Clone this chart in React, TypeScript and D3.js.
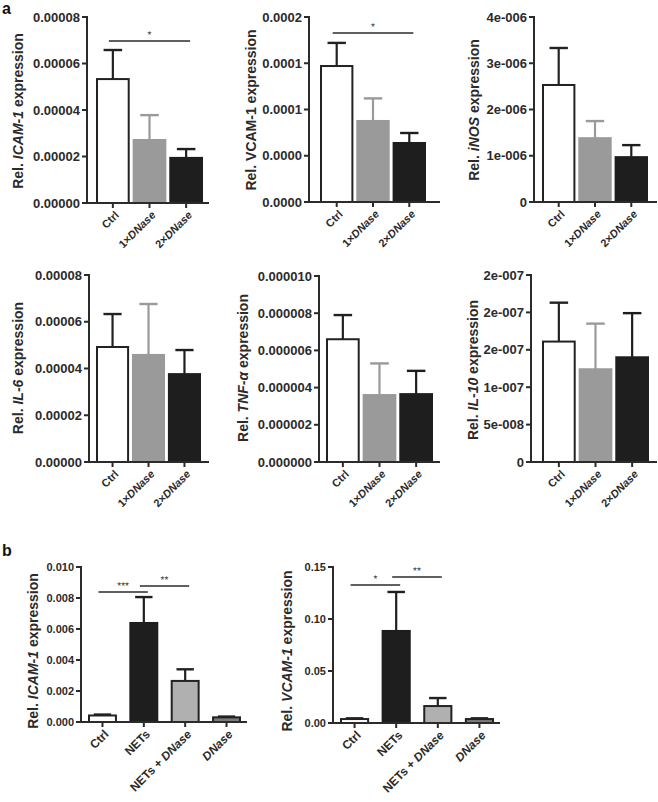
import React from "react";
import * as d3 from "d3";

// ---------- DATA ----------
const groupsA = ["Ctrl", "1×DNase", "2×DNase"];
const groupsB = ["Ctrl", "NETs", "NETs + DNase", "DNase"];

const icamMean = [0.0000533, 0.0000271, 0.0000194];
const icamSem = [0.0000125, 0.0000107, 0.0000038];
const vcamMean = [0.000147, 0.0000876, 0.0000638];
const vcamSem = [0.000025, 0.0000244, 0.0000108];
const inosMean = [2.53e-6, 1.38e-6, 0.97e-6];
const inosSem = [0.8e-6, 0.37e-6, 0.26e-6];
const il6Mean = [0.0000492, 0.0000458, 0.0000376];
const il6Sem = [0.0000141, 0.0000218, 0.0000103];
const tnfMean = [6.6e-6, 3.6e-6, 3.65e-6];
const tnfSem = [1.3e-6, 1.7e-6, 1.25e-6];
const il10Mean = [1.61e-7, 1.24e-7, 1.4e-7];
const il10Sem = [0.52e-7, 0.61e-7, 0.59e-7];
const bIcamMean = [0.00042, 0.00639, 0.00265, 0.0003];
const bIcamSem = [0.00006, 0.00167, 0.00075, 0.00005];
const bVcamMean = [0.0038, 0.0885, 0.0163, 0.0038];
const bVcamSem = [0.0007, 0.0375, 0.0077, 0.0007];

const ticks8e5 = [0, 0.00002, 0.00004, 0.00006, 0.00008];
const ticks8e5Labels = ["0.00000", "0.00002", "0.00004", "0.00006", "0.00008"];
const ticksVcam = [0, 0.00005, 0.0001, 0.00015, 0.0002];
const ticksVcamLabels = ["0.0000", "0.0000", "0.0001", "0.0001", "0.0002"];
const ticksInos = [0, 1e-6, 2e-6, 3e-6, 4e-6];
const ticksInosLabels = ["0", "1e-006", "2e-006", "3e-006", "4e-006"];
const ticksTnf = [0, 2e-6, 4e-6, 6e-6, 8e-6, 1e-5];
const ticksTnfLabels = ["0.000000", "0.000002", "0.000004", "0.000006", "0.000008", "0.000010"];
const ticksIl10 = [0, 5e-8, 1e-7, 1.5e-7, 2e-7, 2.5e-7];
const ticksIl10Labels = ["0", "5e-008", "1e-007", "2e-007", "2e-007", "2e-007"];
const ticksBIcam = [0, 0.002, 0.004, 0.006, 0.008, 0.01];
const ticksBIcamLabels = ["0.000", "0.002", "0.004", "0.006", "0.008", "0.010"];
const ticksBVcam = [0, 0.05, 0.1, 0.15];
const ticksBVcamLabels = ["0.00", "0.05", "0.10", "0.15"];

const sigIcam = [{ from: "Ctrl", to: "2×DNase", label: "*" }];
const sigVcam = [{ from: "Ctrl", to: "2×DNase", label: "*" }];
const sigBIcam = [
  { from: "Ctrl", to: "NETs", label: "***" },
  { from: "NETs", to: "NETs + DNase", label: "**" },
];
const sigBVcam = [
  { from: "Ctrl", to: "NETs", label: "*" },
  { from: "NETs", to: "NETs + DNase", label: "**" },
];

// ---------- STYLE ----------
const TXT = "#2b2b2b";
const AX = "#2b2b2b";
const FONT = "'Liberation Sans', Arial, Helvetica, sans-serif";
const styleA = [
  { fill: "#ffffff", stroke: "#222", err: "#222" },
  { fill: "#9a9a9a", stroke: "#9a9a9a", err: "#9a9a9a" },
  { fill: "#1e1e1e", stroke: "#1e1e1e", err: "#1e1e1e" },
];
const styleB = [
  { fill: "#ffffff", stroke: "#222", err: "#222" },
  { fill: "#1e1e1e", stroke: "#1e1e1e", err: "#1e1e1e" },
  { fill: "#b0b0b0", stroke: "#222", err: "#222" },
  { fill: "#7a7a7a", stroke: "#222", err: "#222" },
];

type SigDef = { from: string; to: string; label: string };
type PanelCfg = {
  cats: string[];
  mean: number[];
  sem: number[];
  max: number;
  ticks: number[];
  tickLabels: string[];
  gene: string;
  geneItalic: boolean;
  styles: { fill: string; stroke: string; err: string }[];
  axisX: number;
  yTop: number;
  yBottom: number;
  bandStart: number;
  bandEnd: number;
  padInner: number;
  axisEnd: number;
  titleX: number;
  titleY: number;
  titleSize: number;
  tickSize: number;
  xLabSize: number;
  capFrac: number;
  sig: SigDef[];
  sigY: number[];
};

const XLabel = ({ text }: { text: string }) => {
  const idx = text.indexOf("DNase");
  if (idx < 0) return <>{text}</>;
  return (
    <>
      {text.slice(0, idx)}
      <tspan fontStyle="italic">DNase</tspan>
    </>
  );
};

const Panel = ({ p }: { p: PanelCfg }) => {
  const y = d3.scaleLinear().domain([0, p.max]).range([p.yBottom, p.yTop]);
  const x = d3
    .scaleBand<string>()
    .domain(p.cats)
    .range([p.bandStart, p.bandEnd])
    .paddingInner(p.padInner)
    .paddingOuter(0);
  const bw = x.bandwidth();
  const cap = bw * p.capFrac;
  const cx = (c: string) => (x(c) as number) + bw / 2;
  return (
    <g fontFamily={FONT} fontWeight="bold" fill={TXT}>
      {p.cats.map((c, i) => {
        const st = p.styles[i];
        const top = y(p.mean[i]);
        const et = y(p.mean[i] + p.sem[i]);
        return (
          <g key={c}>
            <line x1={cx(c)} x2={cx(c)} y1={top} y2={et} stroke={st.err} strokeWidth={2.2} />
            <line x1={cx(c) - cap / 2} x2={cx(c) + cap / 2} y1={et} y2={et} stroke={st.err} strokeWidth={2.4} />
            <rect
              x={(x(c) as number) + 1}
              y={top}
              width={bw - 2}
              height={p.yBottom - top}
              fill={st.fill}
              stroke={st.stroke}
              strokeWidth={2}
            />
          </g>
        );
      })}
      <line x1={p.axisX} x2={p.axisX} y1={p.yTop - 1} y2={p.yBottom + 1} stroke={AX} strokeWidth={2} />
      {p.ticks.map((t, i) => (
        <g key={i}>
          <line x1={p.axisX - 5} x2={p.axisX} y1={y(t)} y2={y(t)} stroke={AX} strokeWidth={2} />
          <text x={p.axisX - 7} y={y(t)} dy="0.36em" textAnchor="end" fontSize={p.tickSize}>
            {p.tickLabels[i]}
          </text>
        </g>
      ))}
      <line x1={p.axisX - 1} x2={p.axisEnd} y1={p.yBottom} y2={p.yBottom} stroke={AX} strokeWidth={2} />
      {p.cats.map((c) => (
        <g key={c}>
          <line x1={cx(c)} x2={cx(c)} y1={p.yBottom} y2={p.yBottom + 5} stroke={AX} strokeWidth={2} />
          <text
            transform={`translate(${cx(c) + 4},${p.yBottom + 10}) rotate(-45)`}
            textAnchor="end"
            dy="0.35em"
            fontSize={p.xLabSize}
          >
            <XLabel text={c} />
          </text>
        </g>
      ))}
      <text
        transform={`translate(${p.titleX},${p.titleY}) rotate(-90)`}
        textAnchor="middle"
        dy="0.35em"
        fontSize={p.titleSize}
      >
        {"Rel. "}
        <tspan fontStyle={p.geneItalic ? "italic" : "normal"}>{p.gene}</tspan>
        {" expression"}
      </text>
      {p.sig.map((s, i) => {
        const x1 = cx(s.from) - 4;
        const x2 = cx(s.to) + 4;
        const yy = p.sigY[i];
        return (
          <g key={i}>
            <line x1={x1} x2={x2} y1={yy} y2={yy} stroke={AX} strokeWidth={1.6} />
            <text
              x={(x1 + x2) / 2}
              y={yy - 3}
              textAnchor="middle"
              fontSize={10}
              fontWeight="normal"
              fill="#333"
              style={{ textRendering: "geometricPrecision" }}
            >
              {s.label}
            </text>
          </g>
        );
      })}
    </g>
  );
};

const base = {
  titleSize: 14,
  tickSize: 13,
  xLabSize: 11,
  capFrac: 0.55,
  padInner: 0.08,
};

const panels: PanelCfg[] = [
  {
    ...base,
    cats: groupsA, mean: icamMean, sem: icamSem, max: 0.00008, ticks: ticks8e5, tickLabels: ticks8e5Labels,
    gene: "ICAM-1", geneItalic: true, styles: styleA,
    axisX: 87, yTop: 17, yBottom: 203, bandStart: 96, bandEnd: 203, axisEnd: 209,
    titleX: 18, titleY: 111, sig: sigIcam, sigY: [41],
  },
  {
    ...base,
    cats: groupsA, mean: vcamMean, sem: vcamSem, max: 0.0002, ticks: ticksVcam, tickLabels: ticksVcamLabels,
    gene: "VCAM-1", geneItalic: false, styles: styleA,
    axisX: 309, yTop: 17, yBottom: 202, bandStart: 320, bandEnd: 426, axisEnd: 440,
    titleX: 251, titleY: 110, sig: sigVcam, sigY: [33],
  },
  {
    ...base,
    cats: groupsA, mean: inosMean, sem: inosSem, max: 4e-6, ticks: ticksInos, tickLabels: ticksInosLabels,
    gene: "iNOS", geneItalic: true, styles: styleA,
    axisX: 534, yTop: 17, yBottom: 202, bandStart: 542, bandEnd: 648, axisEnd: 657,
    titleX: 474, titleY: 110, sig: [], sigY: [],
  },
  {
    ...base,
    cats: groupsA, mean: il6Mean, sem: il6Sem, max: 0.00008, ticks: ticks8e5, tickLabels: ticks8e5Labels,
    gene: "IL-6", geneItalic: true, styles: styleA,
    axisX: 89, yTop: 275, yBottom: 462, bandStart: 96, bandEnd: 201, axisEnd: 209,
    titleX: 18, titleY: 368, sig: [], sigY: [],
  },
  {
    ...base,
    cats: groupsA, mean: tnfMean, sem: tnfSem, max: 1e-5, ticks: ticksTnf, tickLabels: ticksTnfLabels,
    gene: "TNF-α", geneItalic: true, styles: styleA,
    axisX: 319, yTop: 276, yBottom: 462, bandStart: 326, bandEnd: 433, axisEnd: 440,
    titleX: 243, titleY: 368, sig: [], sigY: [],
  },
  {
    ...base,
    cats: groupsA, mean: il10Mean, sem: il10Sem, max: 2.5e-7, ticks: ticksIl10, tickLabels: ticksIl10Labels,
    gene: "IL-10", geneItalic: true, styles: styleA,
    axisX: 531, yTop: 275, yBottom: 462, bandStart: 542, bandEnd: 649, axisEnd: 657,
    titleX: 473, titleY: 370, sig: [], sigY: [],
  },
  {
    ...base,
    tickSize: 11, xLabSize: 12, capFrac: 0.6, padInner: 0.3,
    cats: groupsB, mean: bIcamMean, sem: bIcamSem, max: 0.01, ticks: ticksBIcam, tickLabels: ticksBIcamLabels,
    gene: "ICAM-1", geneItalic: true, styles: styleB,
    axisX: 81, yTop: 567, yBottom: 722, bandStart: 88, bandEnd: 241, axisEnd: 247,
    titleX: 33, titleY: 651, sig: sigBIcam, sigY: [592, 586],
  },
  {
    ...base,
    tickSize: 11, xLabSize: 12, capFrac: 0.6, padInner: 0.3,
    cats: groupsB, mean: bVcamMean, sem: bVcamSem, max: 0.15, ticks: ticksBVcam, tickLabels: ticksBVcamLabels,
    gene: "VCAM-1", geneItalic: true, styles: styleB,
    axisX: 333, yTop: 567, yBottom: 723, bandStart: 340, bandEnd: 494, axisEnd: 500,
    titleX: 287, titleY: 651, sig: sigBVcam, sigY: [585, 577],
  },
];

export default function App() {
  return (
    <svg
      width={658}
      height={802}
      viewBox="0 0 658 802"
      style={{ position: "absolute", left: 0, top: 0, background: "#fff" }}
    >
      <rect width={658} height={802} fill="#fff" />
      <text x={2} y={14} fontFamily={FONT} fontWeight="bold" fontSize={16} fill="#111">a</text>
      <text x={2} y={556} fontFamily={FONT} fontWeight="bold" fontSize={16} fill="#111">b</text>
      {panels.map((p, i) => (
        <Panel key={i} p={p} />
      ))}
    </svg>
  );
}
